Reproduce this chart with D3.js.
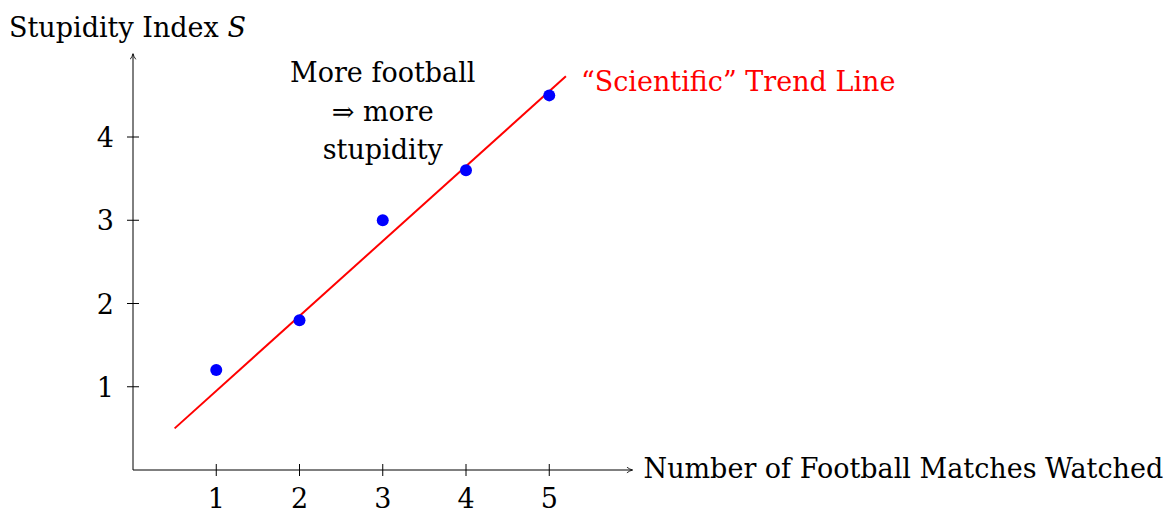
<!DOCTYPE html>
<html>
<head>
<meta charset="utf-8">
<script src="https://cdn.jsdelivr.net/npm/d3@7"></script>
<style>
  body { margin: 0; background: #fff; }
  text { font-family: "DejaVu Serif", "Liberation Serif", serif; }
</style>
</head>
<body>
<svg id="chart"></svg>
<script>
// Data
const matches = [1, 2, 3, 4, 5];
const stupidity = [1.2, 1.8, 3.0, 3.6, 4.5];
const trendX = [0.5, 5.2];
const trendY = [0.5, 4.73];
const xTicks = [1, 2, 3, 4, 5];
const yTicks = [1, 2, 3, 4];
const noteLines = ["More football", "\u21D2 more", "stupidity"];

const width = 1170, height = 510;
const origin = { x: 133, y: 470 };
const unit = 83.25;
const fs = 27;

const svg = d3.select("#chart")
  .attr("width", width)
  .attr("height", height);

// Scales (same unit length on both axes)
const x = d3.scaleLinear().domain([0, 6]).range([origin.x, origin.x + 6 * unit]);
const y = d3.scaleLinear().domain([0, 5]).range([origin.y, origin.y - 5 * unit]);

// Arrow marker
svg.append("defs").append("marker")
  .attr("id", "arrow")
  .attr("viewBox", "0 0 10 10")
  .attr("refX", 9).attr("refY", 5)
  .attr("markerWidth", 7).attr("markerHeight", 7)
  .attr("markerUnits", "userSpaceOnUse")
  .attr("orient", "auto")
  .append("path")
    .attr("d", "M1,1 Q5,4 9,5 Q5,6 1,9")
    .attr("fill", "none")
    .attr("stroke", "#000")
    .attr("stroke-width", 1.2);

// Axes lines
svg.append("line")
  .attr("x1", x(0)).attr("y1", y(0))
  .attr("x2", x(6)).attr("y2", y(0))
  .attr("stroke", "#000").attr("stroke-width", 1)
  .attr("marker-end", "url(#arrow)");

svg.append("line")
  .attr("x1", x(0)).attr("y1", y(0))
  .attr("x2", x(0)).attr("y2", y(5))
  .attr("stroke", "#000").attr("stroke-width", 1)
  .attr("marker-end", "url(#arrow)");

// Ticks crossing the axes
const xAxis = svg.append("g");
xAxis.selectAll("line").data(xTicks).enter().append("line")
  .attr("x1", d => x(d)).attr("x2", d => x(d))
  .attr("y1", y(0) - 6).attr("y2", y(0) + 6)
  .attr("stroke", "#000").attr("stroke-width", 1);
xAxis.selectAll("text").data(xTicks).enter().append("text")
  .attr("x", d => x(d))
  .attr("y", y(0) + 38)
  .attr("text-anchor", "middle")
  .style("font-size", fs + "px")
  .text(d => d);

const yAxis = svg.append("g");
yAxis.selectAll("line").data(yTicks).enter().append("line")
  .attr("x1", x(0) - 6).attr("x2", x(0) + 6)
  .attr("y1", d => y(d)).attr("y2", d => y(d))
  .attr("stroke", "#000").attr("stroke-width", 1);
yAxis.selectAll("text").data(yTicks).enter().append("text")
  .attr("x", x(0) - 19)
  .attr("y", d => y(d) + 10)
  .attr("text-anchor", "end")
  .style("font-size", fs + "px")
  .text(d => d);

// Axis labels
svg.append("text")
  .attr("x", x(6) + 11)
  .attr("y", y(0) + 8)
  .style("font-size", fs + "px")
  .text("Number of Football Matches Watched");

const yLab = svg.append("text")
  .attr("x", 9)
  .attr("y", 37)
  .style("font-size", fs + "px");
yLab.append("tspan").text("Stupidity Index ");
yLab.append("tspan").style("font-style", "italic").text("S");

// Trend line
svg.append("line")
  .attr("x1", x(trendX[0])).attr("y1", y(trendY[0]))
  .attr("x2", x(trendX[1])).attr("y2", y(trendY[1]))
  .attr("stroke", "#ff0000").attr("stroke-width", 2);

svg.append("text")
  .attr("x", x(trendX[1]) + 15)
  .attr("y", y(trendY[1]) + 15)
  .attr("fill", "#ff0000")
  .style("font-size", fs + "px")
  .text("\u201CScientific\u201D Trend Line");

// Points
svg.selectAll("circle.pt")
  .data(matches.map((m, i) => ({ m: m, s: stupidity[i] })))
  .enter().append("circle")
    .attr("class", "pt")
    .attr("cx", d => x(d.m))
    .attr("cy", d => y(d.s))
    .attr("r", 6)
    .attr("fill", "#0000ff");

// Annotation
svg.append("g").selectAll("text").data(noteLines).enter().append("text")
  .attr("x", x(3))
  .attr("y", (d, i) => 82 + i * 38.5)
  .attr("text-anchor", "middle")
  .style("font-size", fs + "px")
  .text(d => d);
</script>
</body>
</html>
